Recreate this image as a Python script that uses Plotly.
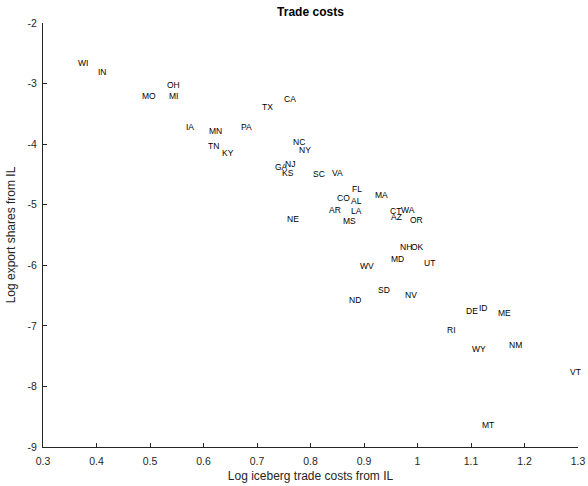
import plotly.graph_objects as go

states = ["WI","IN","OH","MO","MI","IA","MN","PA","TX","CA","TN","KY","NC","NY","GA","NJ","KS",
          "SC","VA","FL","CO","AL","MA","AR","LA","CT","WA","AZ","OR","NE","MS","NH","OK","MD",
          "UT","WV","SD","NV","ND","DE","ID","ME","RI","WY","NM","VT","MT"]
log_trade_costs = [0.364,0.401,0.529,0.484,0.533,0.565,0.608,0.669,0.707,0.748,0.606,0.632,0.766,0.777,
                   0.731,0.750,0.744,0.803,0.839,0.876,0.848,0.874,0.918,0.833,0.874,0.947,0.968,0.948,
                   0.984,0.754,0.858,0.965,0.986,0.948,1.010,0.890,0.924,0.975,0.871,1.088,1.114,1.148,
                   1.054,1.100,1.169,1.283,1.118]
log_export_shares = [-2.66,-2.81,-3.03,-3.21,-3.20,-3.71,-3.78,-3.71,-3.38,-3.25,-4.03,-4.15,-3.97,-4.09,
                     -4.38,-4.32,-4.47,-4.49,-4.48,-4.74,-4.89,-4.94,-4.84,-5.08,-5.10,-5.10,-5.09,-5.21,
                     -5.26,-5.24,-5.27,-5.69,-5.69,-5.89,-5.96,-6.01,-6.41,-6.49,-6.58,-6.76,-6.70,-6.79,
                     -7.07,-7.39,-7.32,-7.76,-8.64]
x_ticks = [0.3,0.4,0.5,0.6,0.7,0.8,0.9,1,1.1,1.2,1.3]
y_ticks = [-9,-8,-7,-6,-5,-4,-3,-2]

FONT = "Liberation Sans"

fig = go.Figure()
fig.add_trace(go.Scatter(x=log_trade_costs, y=log_export_shares, mode="markers",
                         marker=dict(size=1, opacity=0), hoverinfo="skip", showlegend=False))
for s, xv, yv in zip(states, log_trade_costs, log_export_shares):
    fig.add_annotation(x=xv, y=yv, text=s, showarrow=False, xanchor="left", yanchor="middle",
                       borderpad=0, font=dict(family=FONT, size=8.5, color="black"))

axis_common = dict(showline=True, linecolor="#262626", linewidth=1, ticks="inside", ticklen=4,
                   tickcolor="#262626", showgrid=False, zeroline=False, automargin=False,
                   tickfont=dict(family=FONT, size=10.5, color="#262626"),
                   mirror=False)
fig.update_layout(
    width=588, height=486,
    margin=dict(l=43, r=10, t=23, b=39),
    paper_bgcolor="white", plot_bgcolor="white",
    title=dict(text="<b>Trade costs</b>", x=0.528, xanchor="center", y=0.975, yanchor="middle",
               font=dict(family=FONT, size=12, color="black")),
    xaxis=dict(range=[0.3,1.3], tickvals=x_ticks, ticktext=[str(v) for v in x_ticks],
               ticklabelstandoff=4,
               title=dict(text="Log iceberg trade costs from IL", standoff=6,
                          font=dict(family=FONT, size=12, color="#262626")),
               **axis_common),
    yaxis=dict(range=[-9,-2], tickvals=y_ticks, ticktext=[str(v) for v in y_ticks],
               ticklabelstandoff=3,
               title=dict(text="Log export shares from IL", standoff=9,
                          font=dict(family=FONT, size=12, color="#262626")),
               **axis_common),
    font=dict(family=FONT),
)
fig.write_html("out.html", config={"displayModeBar": False},
               post_script="document.body.style.margin='0';document.body.style.padding='0';")
